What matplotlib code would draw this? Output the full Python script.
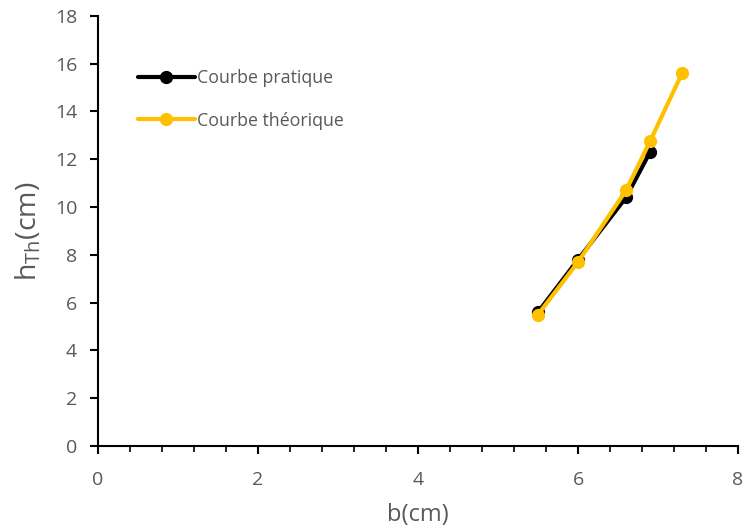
import matplotlib
matplotlib.use("Agg")
import matplotlib.pyplot as plt
from matplotlib.ticker import MultipleLocator

plt.rcParams['font.family'] = ['Open Sans', 'DejaVu Sans']

# Measured and theoretical curves
b_pratique = [5.5, 6.0, 6.6, 6.9]
h_pratique = [5.6, 7.8, 10.4, 12.3]
b_theorique = [5.5, 6.0, 6.6, 6.9, 7.3]
h_theorique = [5.5, 7.7, 10.7, 12.75, 15.6]

label_pratique = "Courbe pratique"
label_theorique = "Courbe théorique"

x_ticks = [0, 2, 4, 6, 8]
y_ticks = [0, 2, 4, 6, 8, 10, 12, 14, 16, 18]

text_color = "#595959"

fig = plt.figure(figsize=(7.44, 5.29), dpi=100)
ax = fig.add_axes([0.1317, 0.157, 0.8603, 0.813])

ax.plot(b_pratique, h_pratique, color="black", lw=3, marker="o",
        markersize=8.5, label=label_pratique, solid_capstyle="round")
ax.plot(b_theorique, h_theorique, color="#FFC000", lw=3, marker="o",
        markersize=8.5, label=label_theorique, solid_capstyle="round")

ax.set_xlim(0, 8)
ax.set_ylim(0, 18)
ax.set_xticks(x_ticks)
ax.set_yticks(y_ticks)
ax.xaxis.set_minor_locator(MultipleLocator(0.4))

for side in ["top", "right"]:
    ax.spines[side].set_visible(False)
for side in ["left", "bottom"]:
    ax.spines[side].set_linewidth(1.5)
    ax.spines[side].set_color("black")

ax.tick_params(axis="both", which="major", direction="out", length=6,
               width=1.5, colors="black", labelcolor=text_color,
               labelsize=14)
ax.tick_params(axis="y", which="major", pad=9)
ax.tick_params(axis="x", which="major", pad=12)
ax.tick_params(axis="x", which="minor", direction="out", length=4,
               width=1.2, colors="black")

ax.set_xlabel("b(cm)", color=text_color, fontsize=17, labelpad=10)
ax.set_ylabel(r"h$_{\mathregular{Th}}$(cm)", color=text_color, fontsize=20.5,
              labelpad=8)

leg = ax.legend(loc="upper left", bbox_to_anchor=(0.0625, 0.877), frameon=False,
                fontsize=12.8, handlelength=3.2, handletextpad=0.1,
                labelspacing=1.4, borderaxespad=0, borderpad=0)
for t in leg.get_texts():
    t.set_color(text_color)

fig.savefig("out.png", dpi=100)
